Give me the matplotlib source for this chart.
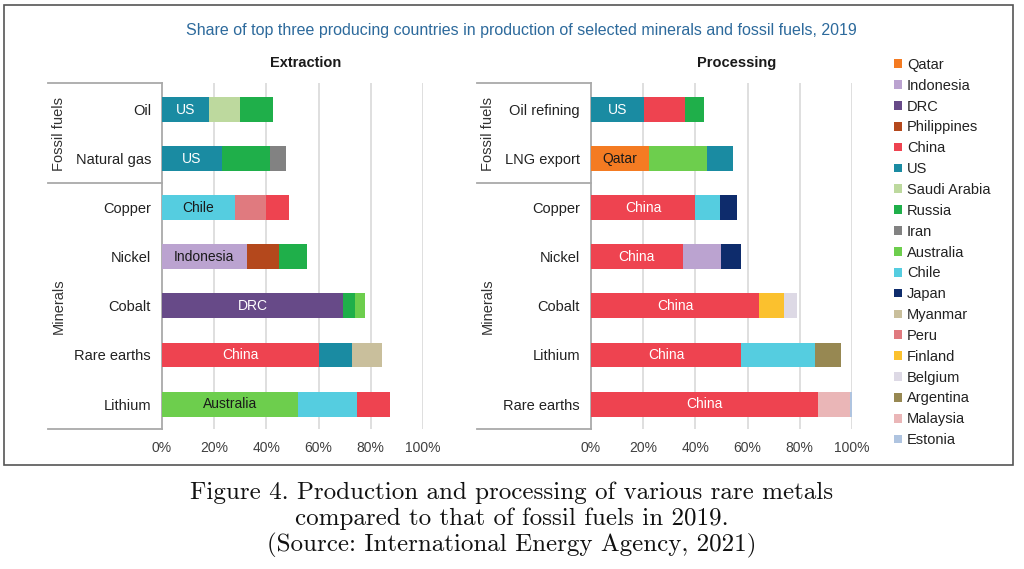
import matplotlib.pyplot as plt
from matplotlib.patches import Patch, Rectangle

# legend order and colours
countries = ["Qatar", "Indonesia", "DRC", "Philippines", "China", "US", "Saudi Arabia",
             "Russia", "Iran", "Australia", "Chile", "Japan", "Myanmar", "Peru",
             "Finland", "Belgium", "Argentina", "Malaysia", "Estonia"]
colors = {
    "Qatar": "#F47B22", "Indonesia": "#BBA3D0", "DRC": "#674A88", "Philippines": "#B4481C",
    "China": "#EE4350", "US": "#1A8BA2", "Saudi Arabia": "#BDD99E", "Russia": "#1FAF4A",
    "Iran": "#828282", "Australia": "#6DCE4D", "Chile": "#55CDE0", "Japan": "#0E2C6C",
    "Myanmar": "#C9BF9C", "Peru": "#E07A7F", "Finland": "#FBC12E", "Belgium": "#DDD9E5",
    "Argentina": "#978852", "Malaysia": "#EAB6B7", "Estonia": "#AFC4E0",
}

# extraction
ext_items = ["Oil", "Natural gas", "Copper", "Nickel", "Cobalt", "Rare earths", "Lithium"]
ext_countries = [["US", "Saudi Arabia", "Russia"], ["US", "Russia", "Iran"],
                 ["Chile", "Peru", "China"], ["Indonesia", "Philippines", "Russia"],
                 ["DRC", "Russia", "Australia"], ["China", "US", "Myanmar"],
                 ["Australia", "Chile", "China"]]
ext_shares = [[18, 12, 12.5], [23, 18.5, 6], [28, 12, 8.5], [32.5, 12.5, 10.5],
              [69.5, 4.3, 4], [60, 12.7, 11.5], [52.2, 22.5, 12.8]]

# processing
proc_items = ["Oil refining", "LNG export", "Copper", "Nickel", "Cobalt", "Lithium", "Rare earths"]
proc_countries = [["US", "China", "Russia"], ["Qatar", "Australia", "US"],
                  ["China", "Chile", "Japan"], ["China", "Indonesia", "Japan"],
                  ["China", "Finland", "Belgium"], ["China", "Chile", "Argentina"],
                  ["China", "Malaysia", "Estonia"]]
proc_shares = [[20.2, 16, 7], [22.3, 22.3, 9.8], [39.8, 9.5, 6.5], [35.1, 14.7, 7.5],
               [64.5, 9.5, 5], [57.6, 28.4, 9.9], [86.8, 12.3, 0.9]]

light_text = {"US", "DRC", "China"}
FONT = "Liberation Sans"
GRID = "#D9D9D9"
LINE = "#A9A9A9"

fig = plt.figure(figsize=(10.24, 5.69), dpi=100)
W, H = 1024, 569


def px_axes(x0, x1, y0, y1):
    return fig.add_axes([x0 / W, 1 - y1 / H, (x1 - x0) / W, (y1 - y0) / H])


def draw_panel(ax, items, ctry, shares, title, title_x):
    n = len(items)
    for i in range(n):
        left = 0
        for c, v in zip(ctry[i], shares[i]):
            ax.barh(i, v, left=left, height=0.51, color=colors[c], zorder=3)
            left += v
        first = ctry[i][0]
        ax.text(shares[i][0] / 2, i, first, ha="center", va="center", fontsize=10,
                family=FONT, color="white" if first in light_text else "#1A1A1A", zorder=4)
    ax.set_xlim(0, 100)
    ax.set_ylim(n - 0.49, -0.55)
    ax.set_xticks(range(0, 101, 20))
    ax.set_xticklabels([f"{t}%" for t in range(0, 101, 20)], fontsize=10, family=FONT,
                       color="#404040")
    ax.tick_params(axis="x", length=0, pad=9)
    ax.tick_params(axis="y", length=0, pad=8)
    ax.set_yticks(range(n))
    ax.set_yticklabels(items, fontsize=10.5, family=FONT, color="#222222")
    for t in range(20, 101, 20):
        ax.axvline(t, color=GRID, lw=1.2, zorder=1)
    for s in ["top", "right", "bottom"]:
        ax.spines[s].set_visible(False)
    ax.spines["left"].set_color(LINE)
    ax.spines["left"].set_linewidth(1.3)
    # bracket lines for groups
    tr = ax.get_yaxis_transform()
    for y in [-0.55, 1.5, n - 0.49]:
        ax.plot([-0.435, 0], [y, y], color=LINE, lw=1.3, transform=tr, clip_on=False)
    ax.text(-0.395, 0.5, "Fossil fuels", rotation=90, ha="center", va="center",
            fontsize=10.5, family=FONT, color="#333333", transform=tr)
    ax.text(-0.395, 4.0, "Minerals", rotation=90, ha="center", va="center",
            fontsize=10.5, family=FONT, color="#333333", transform=tr)
    fig.text(title_x / W, 1 - 63 / H, title, ha="center", va="center", fontsize=10.5,
             fontweight="bold", family=FONT, color="#1A1A1A")


ax1 = px_axes(162, 423, 83, 429)
draw_panel(ax1, ext_items, ext_countries, ext_shares, "Extraction", 306)
ax2 = px_axes(591, 852, 83, 429)
draw_panel(ax2, proc_items, proc_countries, proc_shares, "Processing", 737)

fig.text(521 / W, 1 - 30 / H,
         "Share of top three producing countries in production of selected minerals and fossil fuels, 2019",
         ha="center", va="center", fontsize=11.5, family=FONT, color="#2D6A9C")

handles = [Patch(facecolor=colors[c], edgecolor="none", label=c) for c in countries]
fig.legend(handles=handles, loc="upper left", bbox_to_anchor=(888 / W, 1 - 52 / H),
           frameon=False, prop={"family": FONT, "size": 10.5}, handlelength=0.55,
           handleheight=0.55, handletextpad=0.35, labelspacing=0.47, borderaxespad=0,
           labelcolor="#222222")

# outer frame
fig.patches.append(Rectangle((4 / W, 1 - 465 / H), (1013 - 4) / W, (465 - 5) / H,
                             transform=fig.transFigure, fill=False, edgecolor="#555555",
                             lw=1.2))

caption = ["Figure 4. Production and processing of various rare metals",
           "compared to that of fossil fuels in 2019.",
           "(Source: International Energy Agency, 2021)"]
for k, line in enumerate(caption):
    fig.text(512 / W, 1 - (493 + 26 * k) / H, line, ha="center", va="center",
             fontsize=18, family="cmr10", color="#111111")

fig.savefig("out.png", dpi=100)
